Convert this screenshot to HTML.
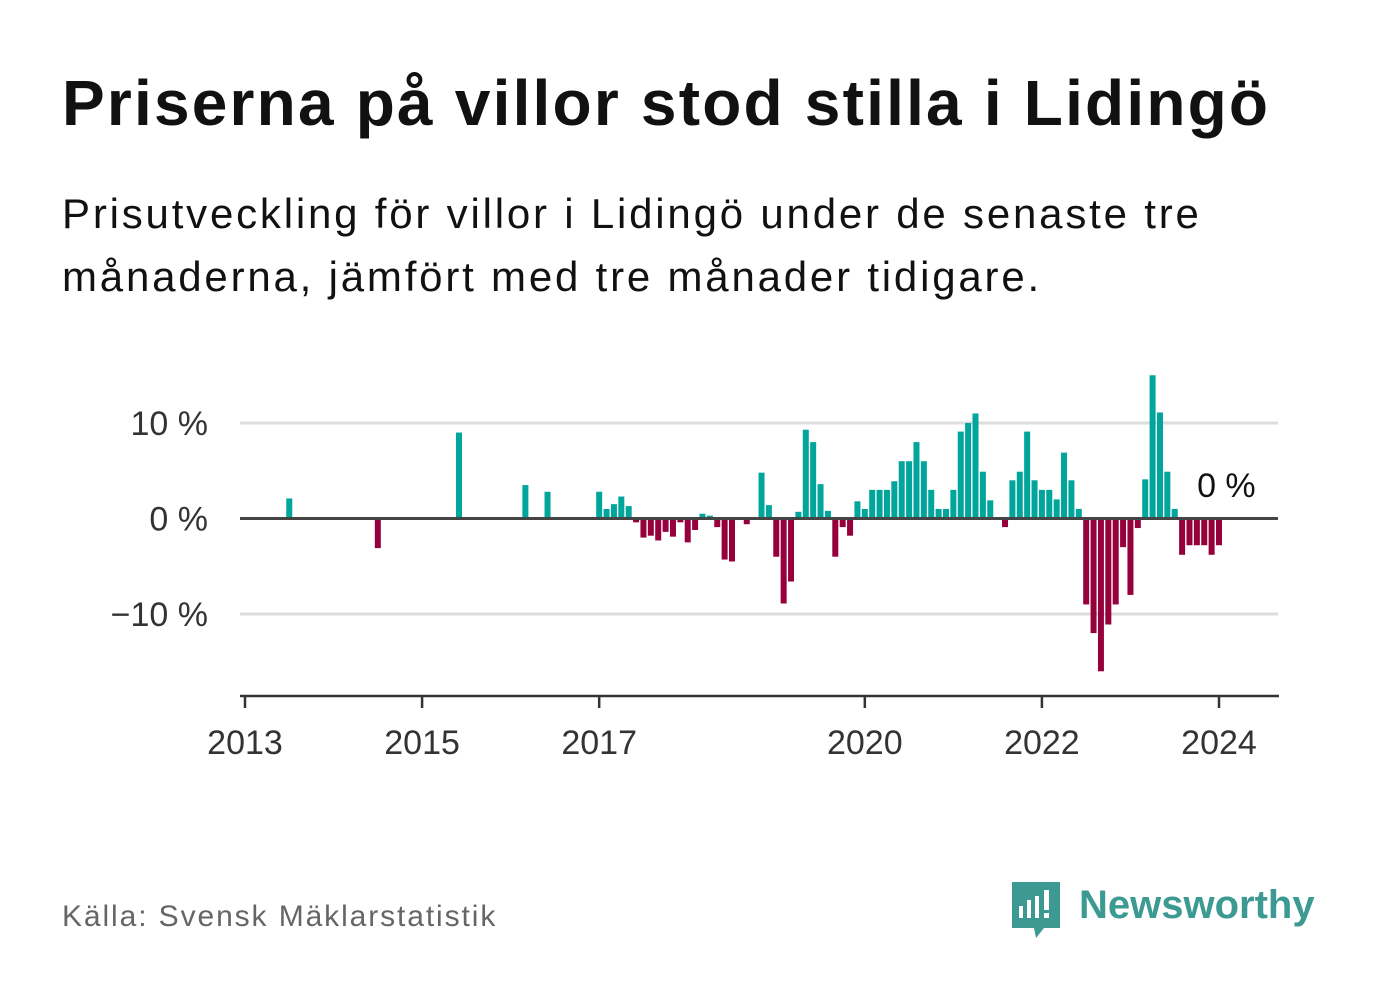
<!DOCTYPE html>
<html><head><meta charset="utf-8"><style>
body{margin:0;background:#fff;width:1382px;height:999px;overflow:hidden;font-family:"Liberation Sans",sans-serif}
.t{position:absolute;left:62px;top:66px;font-size:64px;font-weight:bold;color:#111;letter-spacing:2.2px;white-space:nowrap}
.s{position:absolute;left:62px;top:182px;font-size:42px;line-height:63px;color:#111;letter-spacing:2.8px;white-space:nowrap}
.src{position:absolute;left:62px;top:900px;font-size:30px;color:#666;letter-spacing:1.9px}
</style></head><body>
<div class="t">Priserna på villor stod stilla i Lidingö</div>
<div class="s">Prisutveckling för villor i Lidingö under de senaste tre<br>månaderna, jämfört med tre månader tidigare.</div>
<div class="src">Källa: Svensk Mäklarstatistik</div>
<svg width="1382" height="999" style="position:absolute;left:0;top:0">
<g id="grid"></g><g id="bars"></g><g id="axes"></g>
<g>
<path d="M1012 882h48v46h-16l-8 10-2-10h-22z" fill="#3d9a92"/>
<rect x="1019" y="906" width="4" height="12" fill="#fff"/><rect x="1027" y="900" width="4" height="18" fill="#fff"/><rect x="1035" y="896" width="4" height="22" fill="#fff"/><rect x="1044" y="890" width="5" height="20" fill="#fff"/><rect x="1044" y="913" width="5" height="5" fill="#fff"/>
<text x="1079" y="918" font-size="40" font-weight="bold" fill="#3d9a92" font-family="Liberation Sans,sans-serif">Newsworthy</text>
</g>
</svg>
<script>
const startYear=2013;
const values={6:2.1,18:-3.1,29:9,38:3.5,41:2.8,
48:2.8,49:1.0,50:1.5,51:2.3,52:1.3,53:-0.4,54:-2.0,55:-1.8,56:-2.3,57:-1.4,58:-1.9,59:-0.4,60:-2.5,61:-1.2,62:0.5,63:0.3,64:-0.9,65:-4.3,66:-4.5,68:-0.6,70:4.8,71:1.4,72:-4.0,73:-8.9,74:-6.6,75:0.7,76:9.3,77:8.0,78:3.6,79:0.8,80:-4.0,81:-0.9,82:-1.8,83:1.8,
84:1.0,85:3.0,86:3.0,87:3.0,88:3.9,89:6.0,90:6.0,91:8.0,92:6.0,93:3.0,94:1.0,95:1.0,96:3.0,97:9.1,98:10.0,99:11.0,100:4.9,101:1.9,103:-0.9,104:4.0,105:4.9,106:9.1,107:4.0,108:3.0,109:3.0,110:2.0,111:6.9,112:4.0,113:1.0,
114:-9.0,115:-12.0,116:-16.0,117:-11.1,118:-9.0,119:-3.0,120:-8.0,121:-1.0,122:4.1,123:15.0,124:11.1,125:4.9,126:1.0,127:-3.8,128:-2.8,129:-2.8,130:-2.8,131:-3.8,132:-2.8,133:0};
const monthCount=134;
const yTicks=[10,0,-10];
const yTickLabels=["10 %","0 %","−10 %"];
const xTicks=[2013,2015,2017,2020,2022,2024];
const NS="http://www.w3.org/2000/svg";
const x=m=>245+m*(1219-245)/132;
const y=v=>518.5-v*9.55;
function mk(t,a,p){const e=document.createElementNS(NS,t);for(const k in a)e.setAttribute(k,a[k]);p.appendChild(e);return e;}
const grid=document.getElementById('grid'),bars=document.getElementById('bars'),axes=document.getElementById('axes');
yTicks.forEach((v,i)=>{
 if(v!==0){const l=mk('line',{x1:240,x2:1278,y1:y(v),y2:y(v),stroke:'#ddd','stroke-width':3},grid);
 
 }
 const t=mk('text',{x:208,y:y(v)+12,'text-anchor':'end','font-size':34,fill:'#333'},grid);
 t.textContent=yTickLabels[i];
 
 
});
for(let m=0;m<monthCount;m++){
 const v=values[m];if(v===undefined||v===0)continue;
 const r=mk('rect',{x:x(m)-3,width:6,y:Math.min(y(v),y(0)),height:Math.abs(y(v)-y(0)),fill:v>0?'#00a59b':'#96003c'},bars);
 
 
}
const z=mk('line',{x1:240,x2:1278,y1:y(0),y2:y(0),stroke:'#444','stroke-width':3},axes);


const ax=mk('line',{x1:240,x2:1279,y1:696,y2:696,stroke:'#333','stroke-width':2.5},axes);


xTicks.forEach(yr=>{
 const px=x((yr-startYear)*12);
 const tk=mk('line',{x1:px,x2:px,y1:696,y2:708,stroke:'#333','stroke-width':2.5},axes);
 
 
 const t=mk('text',{x:px,y:754,'text-anchor':'middle','font-size':34,fill:'#333'},axes);
 t.textContent=yr;
 
 
});
const lab=mk('text',{x:x(monthCount-1),y:497,'text-anchor':'middle','font-size':34,fill:'#111'},axes);
lab.textContent=values[monthCount-1]+" %";


</script>
</body></html>
